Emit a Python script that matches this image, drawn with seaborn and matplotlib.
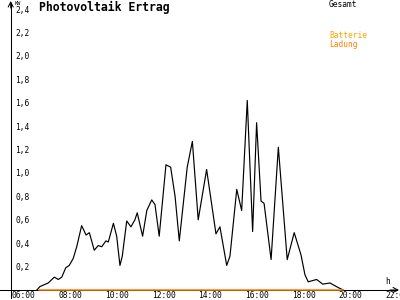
import matplotlib
matplotlib.use("Agg")
import matplotlib.pyplot as plt
import seaborn as sns
import pandas as pd

# ---- data ----
hours = [6.89, 7.03, 7.38, 7.64, 7.81, 7.96, 8.13, 8.28, 8.45, 8.60, 8.81, 9.00, 9.14,
         9.35, 9.52, 9.67, 9.85, 9.95, 10.17, 10.31, 10.45, 10.55, 10.74, 10.92, 11.09,
         11.19, 11.42, 11.60, 11.81, 11.95, 12.13, 12.42, 12.62, 12.81, 12.99, 13.33,
         13.55, 13.80, 14.16, 14.56, 14.73, 15.02, 15.16, 15.45, 15.66, 15.90, 16.13,
         16.30, 16.49, 16.62, 16.92, 17.23, 17.61, 17.91, 18.20, 18.37, 18.51, 18.87,
         19.13, 19.44, 19.80, 20.01]
gesamt_kw = [0.00, 0.03, 0.06, 0.11, 0.09, 0.11, 0.19, 0.21, 0.27, 0.37, 0.55, 0.47, 0.49,
             0.34, 0.38, 0.37, 0.42, 0.41, 0.57, 0.46, 0.21, 0.29, 0.59, 0.54, 0.60,
             0.66, 0.46, 0.68, 0.77, 0.73, 0.46, 1.07, 1.05, 0.80, 0.42, 1.05,
             1.27, 0.60, 1.03, 0.48, 0.54, 0.21, 0.29, 0.86, 0.68, 1.62, 0.50,
             1.43, 0.76, 0.74, 0.26, 1.22, 0.26, 0.49, 0.30, 0.13, 0.07, 0.09,
             0.05, 0.06, 0.02, 0.00]
ladung_hours = [7.0, 20.0]
ladung_kw = [0.0, 0.0]

y_ticks = [0.2, 0.4, 0.6, 0.8, 1.0, 1.2, 1.4, 1.6, 1.8, 2.0, 2.2, 2.4]
y_tick_labels = ["0,2", "0,4", "0,6", "0,8", "1,0", "1,2", "1,4", "1,6", "1,8",
                 "2,0", "2,2", "2,4"]
x_ticks = [6, 8, 10, 12, 14, 16, 18, 20, 22]
x_tick_labels = ["06:00", "08:00", "10:00", "12:00", "14:00", "16:00", "18:00",
                 "20:00", "22:00"]

sns.set_style("white")
plt.rcParams['font.family'] = ['DejaVu Sans Mono']

W, H = 400, 300
X0, PXH = 16.0, 23.36   # pixel of 06:00, pixels per hour
Y0, PXV = 290.0, 117.0  # pixel of 0 kW, pixels per kW

fig = plt.figure(figsize=(4, 3), dpi=100)
fig.patch.set_facecolor("white")
ax = fig.add_axes([0, 0, 1, 1])
ax.set_xlim(6 - X0 / PXH, 6 + (W - X0) / PXH)
ax.set_ylim(-(H - Y0) / PXV, Y0 / PXV)

def hx(px):
    return 6 + (px - X0) / PXH

def vy(py):
    return (Y0 - py) / PXV

df = pd.DataFrame({"h": hours, "kw": gesamt_kw})
dl = pd.DataFrame({"h": ladung_hours, "kw": ladung_kw})

LW = 0.75
sns.lineplot(data=df, x="h", y="kw", color="black", lw=0.85, ax=ax, legend=False, zorder=3)
sns.lineplot(data=dl, x="h", y="kw", color="#FF7F00", lw=1.1, ax=ax, legend=False, zorder=4)

# axes
for s in ["top", "right"]:
    ax.spines[s].set_visible(False)
ax.spines["left"].set_position(("data", hx(10.7)))
ax.spines["left"].set_bounds(vy(298), vy(3))
ax.spines["bottom"].set_position(("data", 0))
ax.spines["bottom"].set_bounds(hx(0), hx(397))
for s in ["left", "bottom"]:
    ax.spines[s].set_linewidth(LW)
    ax.spines[s].set_color("black")
    ax.spines[s].set_zorder(2)

ax.annotate("", xy=(hx(10.7), vy(1)), xytext=(hx(10.7), vy(8)),
            arrowprops=dict(arrowstyle="->,head_length=0.35,head_width=0.18", lw=LW, color="black",
                            shrinkA=0, shrinkB=0))
ax.annotate("", xy=(hx(399), 0), xytext=(hx(390), 0),
            arrowprops=dict(arrowstyle="->,head_length=0.35,head_width=0.18", lw=LW, color="black",
                            shrinkA=0, shrinkB=0))

ax.set_yticks(y_ticks)
ax.set_xticks(x_ticks)
ax.tick_params(axis="y", direction="inout", length=6, width=LW, labelleft=False, color="black")
ax.tick_params(axis="x", direction="out", length=3, width=LW, labelbottom=False, color="black")
ax.set_xlabel("")
ax.set_ylabel("")
ax.grid(False)

FS = 5.7
for v, lab in zip(y_ticks, y_tick_labels):
    ax.text(hx(15), v - 0.008, lab, ha="left", va="center", fontsize=FS, color="black")
for t, lab in zip(x_ticks, x_tick_labels):
    ax.text(t - 4.5 / PXH, vy(290.5), lab, ha="left", va="top", fontsize=FS, color="black")

ax.text(hx(14.5), vy(3.3), "KW", ha="left", va="center", fontsize=3.8, color="black")
ax.text(hx(385), vy(281), "h", ha="left", va="center", fontsize=FS, color="black")

fig.text(39 / W, 1 - 7.5 / H, "Photovoltaik Ertrag", ha="left", va="center",
         fontsize=8.3, fontweight="bold", color="black")
fig.text(329 / W, 1 - 4.5 / H, "Gesamt", ha="left", va="center", fontsize=FS, color="black")
fig.text(329 / W, 1 - 35.5 / H, "Batterie", ha="left", va="center", fontsize=FS, color="#FFA500")
fig.text(329 / W, 1 - 44.5 / H, "Ladung", ha="left", va="center", fontsize=FS, color="#FF7F00")

fig.savefig("out.png", dpi=100, facecolor="white")
